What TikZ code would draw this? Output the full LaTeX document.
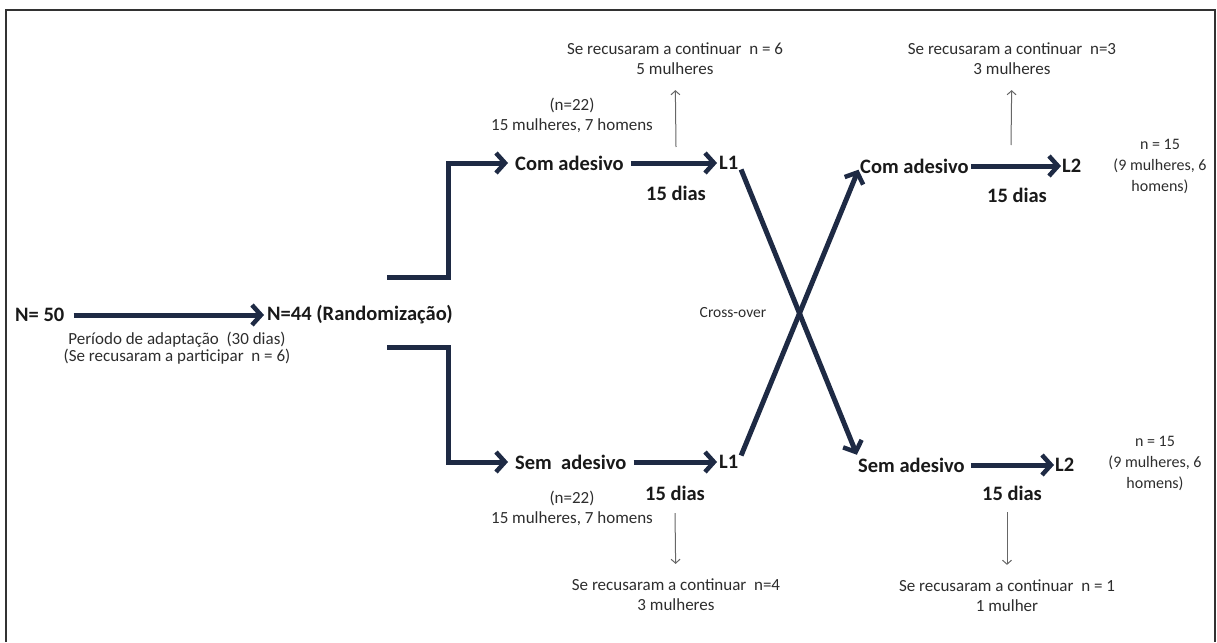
\documentclass[tikz,border=0pt]{standalone}
\usepackage{fontspec}
\setmainfont{Carlito}
\usetikzlibrary{arrows.meta,calc}
\definecolor{navy}{RGB}{30,42,68}
\definecolor{txt}{RGB}{45,45,45}
\definecolor{framec}{RGB}{50,50,50}
\begin{document}
\begin{tikzpicture}[x=1pt,y=-1pt,
  big/.style={font=\fontsize{20.5}{22}\selectfont\bfseries, text=black!90, inner sep=0pt},
  small/.style={font=\fontsize{17}{19}\selectfont, text=txt, inner sep=0pt, align=center},
  fatline/.style={draw=navy, line width=5pt, line join=miter},
  fat/.style={fatline, -{Straight Barb[length=9pt,width=20pt,line width=4.5pt]}},
  thinarrow/.style={draw=black!60, line width=1pt, -{Straight Barb[length=4pt,width=9pt,line width=1pt]}}
]
\useasboundingbox (0,0) rectangle (1217,642);
\draw[framec, line width=2pt] (6,642) -- (6,10) -- (1215,10) -- (1215,642);

% left part
\node[big, anchor=west] (n50) at (15,315) {N= 50};
\node[big, anchor=west] (n44) at (267,315) {N=44 (Randomização)};
\node[small, font=\fontsize{17}{17.5}\selectfont] (adapt) at (177,348) {Período de adaptação\ \ (30 dias)\\(Se recusaram a participar\ \ n = 6)};
\draw[fat, shorten <=9pt, shorten >=3pt] (n50) -- (n44);

% upper branch
\node[big, anchor=west] (ca1) at (515,163) {Com adesivo};
\node[big, anchor=west] (L1a) at (719,163) {L1};
\node[big] (d1) at (676,193) {15 dias};
\node[small, font=\fontsize{17}{20}\selectfont] (g1) at (572,115) {(n=22)\\15 mulheres, 7 homens};
\node[small, font=\fontsize{17}{20}\selectfont] (r1) at (675,59) {Se recusaram a continuar\ \ n = 6\\5 mulheres};
\coordinate (bu0) at (387,277);
\coordinate (bu1) at (448,277);
\draw[fat, shorten >=7pt] (bu0) -- (bu1) |- (ca1);
\draw[fat, shorten <=7pt, shorten >=2pt] (ca1) -- (L1a);
\coordinate (t1) at (676,147);
\draw[thinarrow, shorten >=15pt] (t1) -- (r1);

% lower branch
\node[big, anchor=west] (sa1) at (515,462) {Sem\ \ adesivo};
\node[big, anchor=west] (L1b) at (719,462) {L1};
\node[big] (d2) at (675,493) {15 dias};
\node[small, font=\fontsize{17}{20}\selectfont] (g2) at (572,508) {(n=22)\\15 mulheres, 7 homens};
\node[small, font=\fontsize{17}{20}\selectfont] (r2) at (676,595) {Se recusaram a continuar\ \ n=4\\3 mulheres};
\coordinate (bl0) at (387,347);
\coordinate (bl1) at (448,347);
\draw[fat, shorten >=7pt] (bl0) -- (bl1) |- (sa1);
\draw[fat, shorten <=7pt, shorten >=2pt] (sa1) -- (L1b);
\coordinate (t2) at (675,513);
\draw[thinarrow, shorten >=15pt] (t2) -- (r2);

% cross-over
\node[small, font=\fontsize{15.5}{16}\selectfont] (co) at (733,313) {Cross-over};
\node[big, anchor=west] (ca2) at (860,166) {Com adesivo};
\node[big, anchor=west] (sa2) at (858,465) {Sem adesivo};
\draw[fat, shorten <=7pt, shorten >=3pt] (L1a.east) -- (sa2.north west);
\draw[fat, shorten <=7pt, shorten >=4pt] (L1b.east) -- (ca2.west);

% right part
\node[big, anchor=west] (L2a) at (1062,166) {L2};
\node[big, anchor=west] (L2b) at (1055,465) {L2};
\draw[fat, shorten <=2pt, shorten >=1pt] (ca2) -- (L2a);
\draw[fat, shorten <=6pt, shorten >=1pt] (sa2) -- (L2b);
\node[big] (d3) at (1017,195) {15 dias};
\node[big] (d4) at (1012,493) {15 dias};
\node[small, font=\fontsize{17}{20}\selectfont] (r3) at (1012,59) {Se recusaram a continuar\ \ n=3\\3 mulheres};
\node[small, font=\fontsize{17}{20}\selectfont] (r4) at (1007,596) {Se recusaram a continuar\ \ n = 1\\1 mulher};
\coordinate (t3) at (1011,145);
\coordinate (t4) at (1007,512);
\draw[thinarrow, shorten >=15pt] (t3) -- (r3);
\draw[thinarrow, shorten >=15pt] (t4) -- (r4);
\node[small, font=\fontsize{16}{21}\selectfont] (m1) at (1160,166) {n = 15\\(9 mulheres, 6\\homens)};
\node[small, font=\fontsize{16}{21}\selectfont] (m2) at (1155,463) {n = 15\\(9 mulheres, 6\\homens)};
\end{tikzpicture}
\end{document}
